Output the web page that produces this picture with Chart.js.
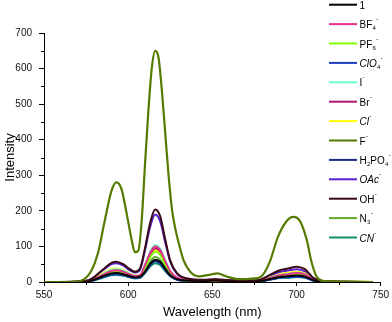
<!DOCTYPE html>
<html>
<head>
<meta charset="utf-8">
<script src="https://cdn.jsdelivr.net/npm/chart.js@4.4.0/dist/chart.umd.min.js"></script>
<style>
html,body{margin:0;padding:0;background:#fff;}
#wrap{width:392px;height:322px;position:relative;}
</style>
</head>
<body>
<div id="wrap"><canvas id="c" width="392" height="322"></canvas></div>
<script>
// ---- data ----
const wavelengths = [550,570,578,585,590,593,597,601,604,607,610,613,616,619,622,625,629,635,645,652,660,670,678,685,690,695,700,705,710,715,725,745];
const s1      = [0,0.5,4,16,24,25,22,16,13,15,29,50,62,56,37,19,8,4,3,4,3,3,3,9,14,16,18,15,5,1,0,0];
const sBF4    = [0,1,5,20,31,33,29,21,17,19,47,81,100,90,59,30,12,5,3,4,3,2,4,12,19,22,25,21,7,2,1,0];
const sPF6    = [0,1,5,19,28,30,26,19,15,17,40,69,85,77,50,26,10,4,3,3,2,2,3,11,17,19,22,18,6,2,0,0];
const sClO4   = [0,0,3,14,21,22,19,14,11,13,27,47,58,52,34,17,7,3,2,3,2,2,2,8,12,13,15,13,4,1,0,0];
const sI      = [0,1,5,22,34,36,32,23,18,20,49,84,104,94,61,31,12,5,3,4,3,2,4,13,20,23,26,22,7,2,1,0];
const sBr     = [0,1,5,20,30,32,28,20,16,18,45,77,95,86,56,29,11,5,3,4,3,2,4,12,19,22,25,21,7,2,1,0];
const sCl     = [0,1,6,24,36,38,33,24,19,19,42,73,90,81,53,27,11,5,3,4,3,2,4,14,22,26,29,24,8,2,1,0];
const sH2PO4  = [0,0,4,15,23,24,21,15,12,14,29,50,62,56,37,19,7,3,2,3,2,2,2,8,13,15,17,14,5,1,0,0];
const sOAc    = [0,1,8,33,50,53,47,33,27,34,89,154,190,171,112,57,23,9,5,7,5,4,5,18,28,32,36,30,10,3,1,0];
const sOH     = [0,1,8,35,54,57,50,36,29,38,95,165,204,185,120,60,25,10,6,8,5,4,6,22,33,38,43,36,12,3,1,0];
const sN3     = [0,1,4,17,27,28,25,18,14,15,33,57,70,63,41,21,8,4,2,3,2,2,3,10,15,18,20,17,6,1,0,0];
const sCN     = [0,0,3,12,19,20,18,13,10,11,25,43,53,48,31,16,6,3,2,2,2,1,2,7,11,12,14,12,4,1,0,0];
const wavelengthsF = [550,566,571,574,578,582,586,590,593,596,599,602,604,606,608,610,612,614,616,618,620,622,624,626,628,630,633,637,642,648,653,658,664,670,675,679,684,689,694,698,702,706,709,712,715,720,730,745];
const sF      = [0,0,2,8,30,80,170,255,280,262,195,120,84,88,170,330,480,600,650,632,540,420,300,205,150,110,60,28,16,20,24,16,9,8,10,15,55,127,170,183,172,120,55,15,4,2,1,0];

const legendLabels = ['1','BF_4^-','PF_6^-','ClO_4^-','I^-','Br^-','Cl^-','F^-','H_2PO_4^-','OAc^-','OH^-','N_3^-','CN^-'];
const italicLabels = [false,false,false,true,false,false,true,false,false,true,false,false,true];
const seriesColors = ['#000000','#e8308a','#80ff00','#1e3fbf','#66ffcc','#b01870','#ffff00','#557a00','#1c2a8c','#5a20d0','#3a0a14','#5fa82a','#109068'];
const xTicksMajor = [550,600,650,700,750];
const yTicksMajor = [0,100,200,300,400,500,600,700];
const xMinor = [575,625,675,725];
const yMinor = [50,150,250,350,450,550,650];

const seriesValues = [s1,sBF4,sPF6,sClO4,sI,sBr,sCl,sF,sH2PO4,sOAc,sOH,sN3,sCN];

const datasets = seriesValues.map((vals,i)=>{
  const xs = (vals===sF) ? wavelengthsF : wavelengths;
  return {
    label: legendLabels[i],
    data: vals.map((v,k)=>({x:xs[k], y:v})),
    borderColor: seriesColors[i],
    backgroundColor: seriesColors[i],
    borderWidth: vals===sF ? 2.2 : 2,
    pointRadius: 0,
    cubicInterpolationMode: 'monotone',
    fill: false,
    order: vals===sF ? 0 : (vals===sOH ? 1 : 2)
  };
});

function drawRich(ctx, str, x, y, italic){
  const base = (italic?'italic ':'') + '10px "Liberation Sans", Arial, sans-serif';
  const small = '6px "Liberation Sans", Arial, sans-serif';
  let i=0; let cx=x;
  ctx.textBaseline='alphabetic'; ctx.textAlign='left'; ctx.fillStyle='#000';
  while(i<str.length){
    const ch=str[i];
    if(ch==='_' || ch==='^'){
      const t=str[i+1]; ctx.font=small;
      ctx.fillText(t, cx+0.3, ch==='_' ? y+6 : y-3);
      cx += ctx.measureText(t).width+0.3; i+=2;
    } else {
      ctx.font=base; ctx.fillText(ch,cx,y+4); cx+=ctx.measureText(ch).width; i++;
    }
  }
}

const extras = {
  id:'extras',
  afterDraw(chart){
    const ctx=chart.ctx;
    const xs=chart.scales.x, ys=chart.scales.y;
    ctx.save();
    ctx.strokeStyle='#000'; ctx.lineWidth=1;
    xMinor.forEach(v=>{const p=Math.round(xs.getPixelForValue(v))+0.5; ctx.beginPath(); ctx.moveTo(p,ys.bottom); ctx.lineTo(p,ys.bottom+3); ctx.stroke();});
    yMinor.forEach(v=>{const p=Math.round(ys.getPixelForValue(v))+0.5; ctx.beginPath(); ctx.moveTo(xs.left,p); ctx.lineTo(xs.left-3,p); ctx.stroke();});
    // legend
    const lx0=329, lx1=357, tx=359.5, y0=4.7, dy=19.4;
    chart.data.datasets.forEach((ds,i)=>{
      const y=y0+i*dy;
      ctx.strokeStyle=ds.borderColor; ctx.lineWidth=2;
      ctx.beginPath(); ctx.moveTo(lx0,y); ctx.lineTo(lx1,y); ctx.stroke();
      drawRich(ctx, legendLabels[i], tx, y, italicLabels[i]);
    });
    ctx.restore();
  }
};

new Chart(document.getElementById('c'), {
  type:'line',
  data:{datasets},
  options:{
    responsive:false, animation:false,
    layout:{padding:{top:33,right:10,left:0,bottom:0}},
    plugins:{legend:{display:false}, tooltip:{enabled:false}},
    scales:{
      x:{type:'linear', min:550, max:750,
        afterBuildTicks(s){ s.ticks = xTicksMajor.map(v=>({value:v})); },
        afterFit(s){ s.height=40; },
        ticks:{color:'#111', padding:3, font:{family:'"Liberation Sans", Arial, sans-serif', size:10}, maxRotation:0},
        grid:{drawOnChartArea:false, drawTicks:true, tickLength:4, color:'#000'},
        border:{display:true, color:'#000', width:1},
        title:{display:true, text:'Wavelength (nm)', color:'#000', font:{family:'"Liberation Sans", Arial, sans-serif', size:13}, padding:{top:0,bottom:2}}
      },
      y:{type:'linear', min:0, max:700,
        afterBuildTicks(s){ s.ticks = yTicksMajor.map(v=>({value:v})); },
        afterFit(s){ s.width=44; },
        ticks:{color:'#111', padding:7, font:{family:'"Liberation Sans", Arial, sans-serif', size:10}},
        grid:{drawOnChartArea:false, drawTicks:true, tickLength:5, color:'#000'},
        border:{display:true, color:'#000', width:1},
        title:{display:true, text:'Intensity', color:'#000', font:{family:'"Liberation Sans", Arial, sans-serif', size:13}, padding:{top:3,bottom:0}}
      }
    }
  },
  plugins:[extras]
});
</script>
</body>
</html>
